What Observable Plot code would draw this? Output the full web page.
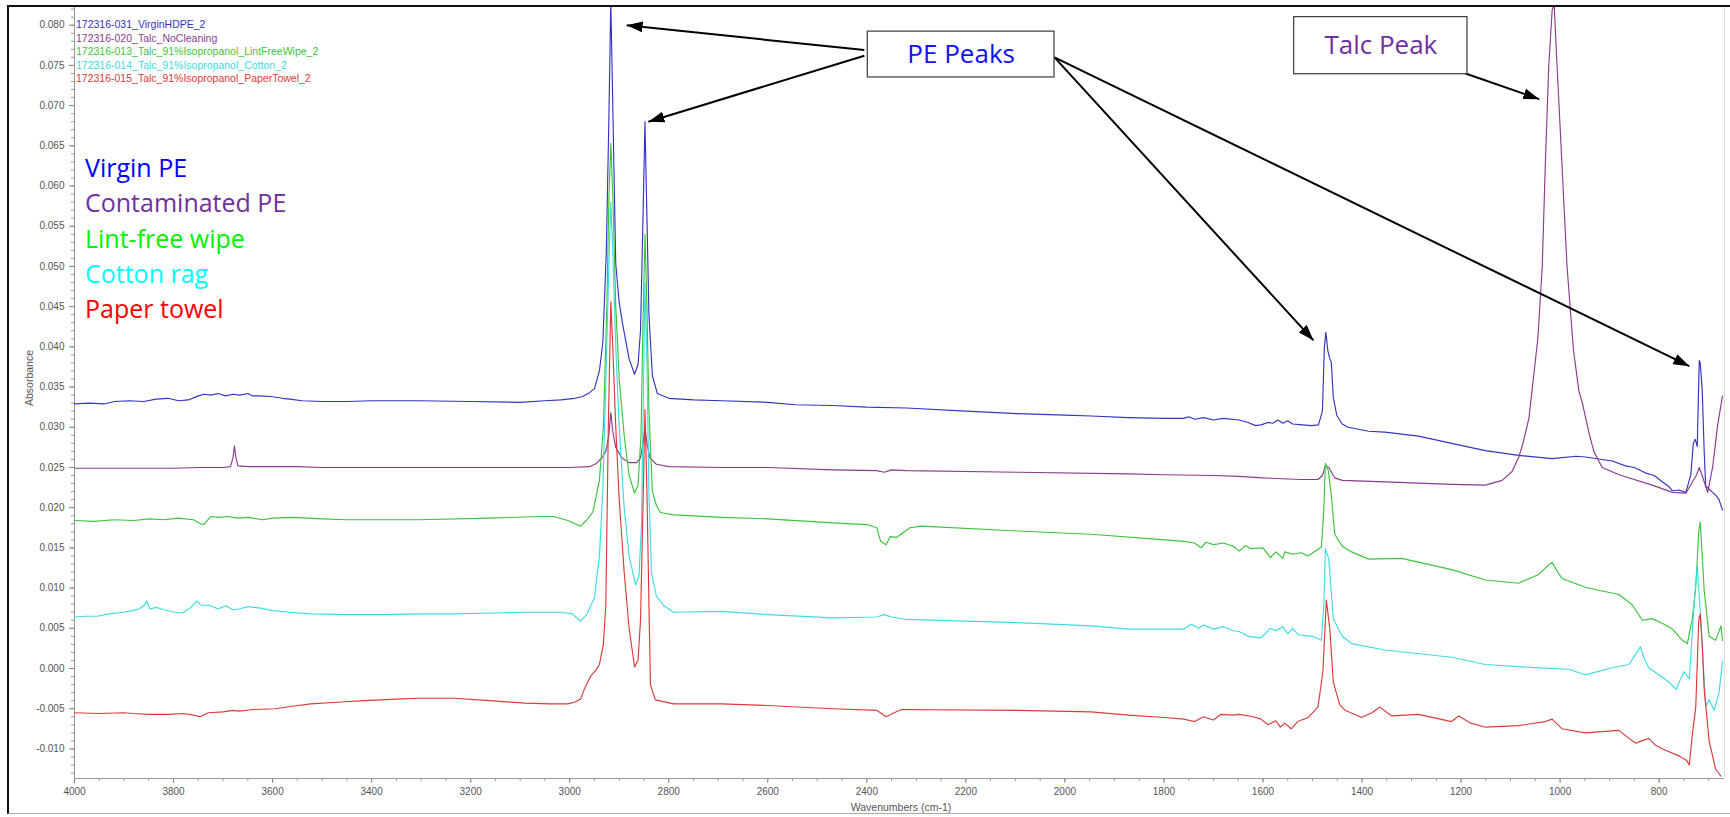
<!DOCTYPE html>
<html>
<head>
<meta charset="utf-8">
<script src="https://cdn.jsdelivr.net/npm/d3@7"></script>
<script src="https://cdn.jsdelivr.net/npm/@observablehq/plot@0.6"></script>
<style>
html,body{margin:0;padding:0;background:#fff;}
#wrap{position:relative;width:1730px;height:817px;overflow:hidden;}
#wrap svg{position:absolute;left:0;top:0;}
#frame{position:absolute;left:7px;top:5px;width:1723px;height:809px;border-left:2px solid #111;border-top:2px solid #111;border-bottom:1px solid #aaa;box-sizing:border-box;pointer-events:none;}
</style>
</head>
<body>
<div id="wrap"><div id="frame"></div></div>
<script>
// ---------- data (wavenumber cm-1, absorbance) ----------
const virginPE = [[4000,0.0329],[3970,0.0330],[3940,0.0329],[3919,0.0332],[3890,0.0333],[3860,0.0332],[3835,0.0335],[3811,0.0336],[3790,0.0333],[3770,0.0334],[3750,0.0339],[3739,0.0341],[3725,0.0340],[3710,0.0342],[3695,0.0339],[3680,0.0341],[3667,0.0340],[3650,0.0342],[3640,0.0339],[3624,0.0339],[3600,0.0338],[3580,0.0336],[3566,0.0335],[3540,0.0333],[3500,0.0332],[3450,0.0332],[3400,0.0333],[3306,0.0333],[3200,0.0332],[3100,0.0331],[3050,0.0333],[3018,0.0334],[2990,0.0336],[2975,0.0338],[2960,0.0343],[2950,0.0348],[2940,0.0370],[2933,0.0406],[2926,0.0520],[2921,0.0680],[2917,0.0830],[2913,0.0700],[2907,0.0503],[2900,0.0455],[2893,0.0428],[2880,0.0385],[2869,0.0366],[2862,0.0378],[2857,0.0420],[2852,0.0560],[2848,0.0680],[2844,0.0560],[2840,0.0440],[2833,0.0364],[2823,0.0342],[2800,0.0336],[2750,0.0334],[2693,0.0333],[2600,0.0331],[2544,0.0328],[2469,0.0327],[2400,0.0325],[2320,0.0324],[2200,0.0320],[2096,0.0317],[2000,0.0315],[1947,0.0314],[1872,0.0312],[1798,0.0311],[1760,0.0311],[1750,0.0313],[1738,0.0310],[1720,0.0312],[1700,0.0309],[1680,0.0311],[1648,0.0309],[1630,0.0306],[1615,0.0302],[1604,0.0303],[1590,0.0306],[1580,0.0305],[1570,0.0309],[1560,0.0305],[1550,0.0308],[1540,0.0304],[1520,0.0303],[1502,0.0302],[1488,0.0303],[1480,0.0320],[1476,0.0400],[1473,0.0418],[1469,0.0395],[1465,0.0385],[1462,0.0381],[1458,0.0337],[1451,0.0315],[1440,0.0304],[1428,0.0300],[1387,0.0295],[1354,0.0294],[1286,0.0289],[1219,0.0280],[1151,0.0271],[1084,0.0265],[1016,0.0261],[968,0.0264],[949,0.0263],[895,0.0258],[868,0.0252],[850,0.0250],[827,0.0243],[810,0.0240],[793,0.0232],[780,0.0226],[773,0.0221],[760,0.0222],[746,0.0219],[736,0.0241],[731,0.0280],[727,0.0285],[723,0.0276],[719,0.0383],[717,0.0380],[713,0.0346],[709,0.0270],[706,0.0227],[692,0.0219],[685,0.0215],[679,0.0210],[672,0.0197]];

const contaminatedPE = [[4000,0.0249],[3900,0.0249],[3800,0.0249],[3750,0.0250],[3700,0.0250],[3685,0.0251],[3680,0.0262],[3677,0.0277],[3674,0.0262],[3670,0.0252],[3650,0.0251],[3600,0.0251],[3550,0.0251],[3500,0.0250],[3400,0.0250],[3200,0.0250],[3000,0.0250],[2960,0.0251],[2946,0.0255],[2935,0.0262],[2927,0.0270],[2921,0.0290],[2917,0.0318],[2913,0.0295],[2907,0.0275],[2895,0.0262],[2880,0.0256],[2865,0.0256],[2857,0.0262],[2852,0.0280],[2848,0.0300],[2844,0.0280],[2838,0.0262],[2825,0.0254],[2800,0.0251],[2693,0.0250],[2600,0.0250],[2469,0.0247],[2380,0.0246],[2365,0.0244],[2350,0.0247],[2320,0.0246],[2096,0.0244],[1872,0.0242],[1798,0.0241],[1700,0.0240],[1648,0.0239],[1600,0.0237],[1523,0.0235],[1489,0.0235],[1480,0.0240],[1474,0.0252],[1467,0.0250],[1455,0.0237],[1440,0.0234],[1354,0.0232],[1219,0.0229],[1151,0.0228],[1117,0.0234],[1097,0.0245],[1084,0.0262],[1075,0.0280],[1063,0.0311],[1045,0.0410],[1036,0.0500],[1030,0.0624],[1023,0.0748],[1016,0.0819],[1012,0.0826],[1006,0.0748],[996,0.0624],[986,0.0500],[973,0.0396],[962,0.0345],[955,0.0330],[942,0.0294],[932,0.0270],[915,0.0250],[881,0.0241],[814,0.0228],[773,0.0219],[746,0.0218],[733,0.0232],[725,0.0240],[719,0.0250],[713,0.0240],[709,0.0232],[702,0.0219],[692,0.0250],[682,0.0302],[672,0.0339]];

const lintFreeWipe = [[4000,0.0184],[3960,0.0183],[3920,0.0185],[3880,0.0184],[3850,0.0186],[3820,0.0185],[3790,0.0187],[3760,0.0185],[3745,0.0180],[3739,0.0179],[3725,0.0189],[3710,0.0188],[3690,0.0189],[3670,0.0187],[3650,0.0188],[3620,0.0185],[3600,0.0187],[3560,0.0188],[3500,0.0186],[3450,0.0185],[3306,0.0185],[3162,0.0187],[3060,0.0189],[3032,0.0189],[3004,0.0184],[2978,0.0177],[2965,0.0185],[2953,0.0195],[2940,0.0234],[2932,0.0300],[2925,0.0450],[2921,0.0580],[2917,0.0653],[2913,0.0590],[2907,0.0450],[2900,0.0360],[2890,0.0290],[2880,0.0240],[2869,0.0218],[2862,0.0228],[2856,0.0290],[2852,0.0430],[2848,0.0540],[2844,0.0450],[2840,0.0320],[2833,0.0220],[2825,0.0203],[2817,0.0194],[2790,0.0191],[2693,0.0188],[2600,0.0186],[2469,0.0181],[2400,0.0179],[2380,0.0175],[2372,0.0158],[2361,0.0154],[2353,0.0164],[2340,0.0163],[2313,0.0175],[2290,0.0177],[2096,0.0171],[1947,0.0167],[1798,0.0160],[1760,0.0158],[1738,0.0156],[1725,0.0150],[1715,0.0157],[1700,0.0154],[1680,0.0156],[1660,0.0152],[1648,0.0146],[1635,0.0153],[1624,0.0149],[1600,0.0150],[1585,0.0138],[1574,0.0145],[1560,0.0137],[1556,0.0145],[1540,0.0142],[1523,0.0144],[1509,0.0140],[1482,0.0151],[1477,0.0200],[1474,0.0255],[1468,0.0246],[1462,0.0215],[1455,0.0167],[1440,0.0152],[1421,0.0145],[1387,0.0136],[1320,0.0137],[1219,0.0123],[1151,0.0110],[1084,0.0106],[1043,0.0117],[1025,0.0128],[1016,0.0132],[1005,0.0120],[996,0.0112],[949,0.0101],[920,0.0097],[881,0.0092],[854,0.0079],[834,0.0060],[814,0.0062],[790,0.0055],[773,0.0049],[753,0.0035],[743,0.0031],[733,0.0062],[726,0.0101],[720,0.0170],[717,0.0182],[713,0.0140],[709,0.0097],[699,0.0040],[686,0.0035],[675,0.0053],[672,0.0035]];

const cottonRag = [[4000,0.0064],[3980,0.0065],[3955,0.0065],[3930,0.0068],[3900,0.0070],[3883,0.0072],[3870,0.0074],[3860,0.0078],[3854,0.0084],[3848,0.0074],[3835,0.0076],[3820,0.0073],[3797,0.0070],[3782,0.0069],[3765,0.0076],[3753,0.0084],[3745,0.0079],[3725,0.0078],[3710,0.0074],[3695,0.0078],[3680,0.0073],[3667,0.0074],[3650,0.0077],[3624,0.0075],[3600,0.0072],[3566,0.0070],[3523,0.0068],[3450,0.0067],[3379,0.0067],[3300,0.0068],[3234,0.0068],[3150,0.0069],[3090,0.0070],[3018,0.0070],[2995,0.0068],[2978,0.0059],[2965,0.0068],[2950,0.0088],[2940,0.0140],[2933,0.0223],[2926,0.0380],[2921,0.0500],[2917,0.0580],[2913,0.0520],[2907,0.0400],[2900,0.0300],[2890,0.0200],[2880,0.0140],[2867,0.0104],[2860,0.0115],[2855,0.0180],[2851,0.0350],[2848,0.0480],[2844,0.0380],[2840,0.0220],[2835,0.0120],[2825,0.0090],[2810,0.0078],[2790,0.0070],[2693,0.0071],[2600,0.0067],[2469,0.0063],[2380,0.0064],[2365,0.0067],[2350,0.0064],[2320,0.0061],[2096,0.0057],[1947,0.0053],[1872,0.0049],[1760,0.0049],[1745,0.0055],[1730,0.0050],[1720,0.0054],[1700,0.0049],[1680,0.0052],[1660,0.0047],[1648,0.0046],[1630,0.0040],[1604,0.0038],[1585,0.0050],[1574,0.0047],[1560,0.0052],[1550,0.0043],[1540,0.0050],[1529,0.0042],[1500,0.0040],[1482,0.0035],[1477,0.0080],[1474,0.0149],[1467,0.0136],[1458,0.0062],[1440,0.0040],[1421,0.0031],[1354,0.0023],[1219,0.0014],[1151,0.0005],[1050,0.0001],[982,-0.0001],[949,-0.0008],[895,0.0001],[861,0.0005],[845,0.0020],[838,0.0027],[830,0.0012],[821,0.0001],[800,-0.0008],[780,-0.0017],[766,-0.0026],[750,-0.0004],[739,-0.0013],[729,0.0084],[723,0.0127],[716,0.0062],[706,-0.0047],[699,-0.0039],[689,-0.0052],[679,-0.0030],[672,0.0009]];

const paperTowel = [[4000,-0.0055],[3950,-0.0056],[3900,-0.0055],[3883,-0.0056],[3850,-0.0057],[3811,-0.0057],[3780,-0.0056],[3760,-0.0058],[3746,-0.0060],[3730,-0.0055],[3700,-0.0054],[3680,-0.0052],[3667,-0.0053],[3640,-0.0051],[3595,-0.0050],[3560,-0.0047],[3523,-0.0044],[3470,-0.0042],[3414,-0.0040],[3350,-0.0038],[3306,-0.0037],[3234,-0.0037],[3162,-0.0040],[3090,-0.0043],[3040,-0.0044],[3004,-0.0044],[2990,-0.0042],[2978,-0.0038],[2970,-0.0025],[2957,-0.0009],[2947,-0.0002],[2940,0.0005],[2932,0.0030],[2927,0.0080],[2922,0.0300],[2917,0.0456],[2913,0.0400],[2907,0.0300],[2900,0.0210],[2890,0.0120],[2880,0.0050],[2869,0.0002],[2862,0.0010],[2857,0.0060],[2852,0.0200],[2848,0.0322],[2844,0.0220],[2840,0.0080],[2837,-0.0020],[2827,-0.0039],[2790,-0.0044],[2693,-0.0044],[2600,-0.0046],[2469,-0.0050],[2380,-0.0052],[2361,-0.0060],[2345,-0.0055],[2330,-0.0051],[2096,-0.0052],[1947,-0.0054],[1872,-0.0058],[1798,-0.0061],[1760,-0.0063],[1738,-0.0066],[1720,-0.0060],[1700,-0.0064],[1685,-0.0057],[1660,-0.0058],[1648,-0.0057],[1620,-0.0060],[1604,-0.0063],[1590,-0.0070],[1574,-0.0065],[1565,-0.0073],[1556,-0.0068],[1543,-0.0075],[1530,-0.0066],[1509,-0.0061],[1489,-0.0048],[1479,-0.0004],[1472,0.0085],[1465,0.0049],[1458,-0.0017],[1445,-0.0045],[1434,-0.0052],[1401,-0.0061],[1380,-0.0055],[1364,-0.0048],[1340,-0.0059],[1286,-0.0057],[1219,-0.0066],[1205,-0.0059],[1180,-0.0068],[1151,-0.0073],[1084,-0.0071],[1030,-0.0066],[1016,-0.0063],[996,-0.0075],[949,-0.0080],[881,-0.0077],[865,-0.0085],[847,-0.0093],[835,-0.0090],[821,-0.0087],[808,-0.0095],[793,-0.0100],[759,-0.0109],[745,-0.0114],[739,-0.0120],[733,-0.0082],[726,-0.0048],[720,0.0060],[717,0.0068],[713,0.0030],[709,-0.0026],[699,-0.0090],[686,-0.0125],[675,-0.0134]];

const seriesData = [virginPE, contaminatedPE, lintFreeWipe, cottonRag, paperTowel];
const lineColors = ["#3434c4", "#8a3c8e", "#3cc43c", "#3cdce4", "#dc3a3a"];
const fileNames = ["172316-031_VirginHDPE_2", "172316-020_Talc_NoCleaning", "172316-013_Talc_91%Isopropanol_LintFreeWipe_2", "172316-014_Talc_91%Isopropanol_Cotton_2", "172316-015_Talc_91%Isopropanol_PaperTowel_2"];
const legendLabels = ["Virgin PE", "Contaminated PE", "Lint-free wipe", "Cotton rag", "Paper towel"];
const legendColors = ["#0000ff", "#7030a0", "#00f000", "#00ffff", "#ff0000"];

const xTicks = [4000, 3800, 3600, 3400, 3200, 3000, 2800, 2600, 2400, 2200, 2000, 1800, 1600, 1400, 1200, 1000, 800];
const xMinorTicks = d3.range(700, 4001, 50);
const yTicks = [-0.010, -0.005, 0.000, 0.005, 0.010, 0.015, 0.020, 0.025, 0.030, 0.035, 0.040, 0.045, 0.050, 0.055, 0.060, 0.065, 0.070, 0.075, 0.080];
const yMinorTicks = d3.range(-13, 83, 1).map(d => d / 1000);

// annotations (in data coordinates)
const boxes = [
  {label: "PE Peaks", color: "#1010ff", x1: 2398, x2: 2021, y1: 0.0792, y2: 0.0735},
  {label: "Talc Peak", color: "#7030a0", x1: 1537, x2: 1187, y1: 0.0810, y2: 0.0739}
];
const arrows = [
  {x1: 2405, y1: 0.0769, x2: 2885, y2: 0.0800},
  {x1: 2405, y1: 0.0762, x2: 2841, y2: 0.0680},
  {x1: 2021, y1: 0.0760, x2: 1498, y2: 0.0408},
  {x1: 2021, y1: 0.0760, x2: 739, y2: 0.0376},
  {x1: 1191, y1: 0.0740, x2: 1042, y2: 0.0708}
];

const xDomain = [4000, 668];
const yDomain = [-0.01368, 0.0822];

const lineMarks = seriesData.map((s, i) => Plot.line(s, {x: d => d[0], y: d => d[1], stroke: lineColors[i], strokeWidth: 1.15, clip: true}));

const chart = Plot.plot({
  width: 1730, height: 817,
  marginLeft: 74, marginRight: 6, marginTop: 7, marginBottom: 39,
  style: {background: "transparent", fontFamily: "'Liberation Sans', Arial, sans-serif", overflow: "visible"},
  x: {domain: xDomain},
  y: {domain: yDomain},
  marks: [
    Plot.ruleX([xDomain[1]], {stroke: "#dddddd"}),
    Plot.axisX(xMinorTicks, {anchor: "bottom", tickSize: 3, tickFormat: () => "", stroke: "#999", label: null}),
    Plot.axisX(xTicks, {anchor: "bottom", tickSize: 5, tickPadding: 4, tickFormat: d => String(d), fontSize: 10, fill: "#555", stroke: "#888", label: null}),
    Plot.axisY(yMinorTicks, {anchor: "left", tickSize: 3, tickFormat: () => "", stroke: "#999", label: null}),
    Plot.axisY(yTicks, {anchor: "left", tickSize: 5, tickPadding: 5, tickFormat: d => d.toFixed(3), fontSize: 10, fill: "#555", stroke: "#888", label: null}),
    Plot.ruleX([xDomain[0]], {stroke: "#999"}),
    Plot.ruleY([yDomain[0]], {stroke: "#999"}),
    ...lineMarks,
    Plot.link(arrows, {x1: "x1", y1: "y1", x2: "x2", y2: "y2", stroke: "#000", strokeWidth: 2}),
    Plot.rect(boxes, {x1: "x1", x2: "x2", y1: "y1", y2: "y2", fill: "white", stroke: "#3a3a3a", strokeWidth: 1.2}),
    Plot.text(boxes, {x: d => (d.x1 + d.x2) / 2, y: d => (d.y1 + d.y2) / 2, text: "label", fill: "color", fontSize: 26, fontFamily: "'Open Sans', sans-serif", lineAnchor: "middle", textAnchor: "middle"})
  ]
});

document.getElementById("wrap").prepend(chart);

// arrowheads
const svg = d3.select(chart);
const defs = svg.insert("defs", ":first-child");
defs.append("marker").attr("id", "ahead").attr("viewBox", "0 0 16 11").attr("refX", 16).attr("refY", 5.5)
  .attr("markerWidth", 16).attr("markerHeight", 11).attr("markerUnits", "userSpaceOnUse").attr("orient", "auto")
  .append("path").attr("d", "M0,0 L16,5.5 L0,11 Z").attr("fill", "#000");
svg.selectAll('g[aria-label="link"] path').attr("marker-end", "url(#ahead)");

const ys = chart.scale("y");
const y080 = ys.apply(0.080);
const y075 = ys.apply(0.075);
const step = (y075 - y080) / 3;
// file legend
const fg = svg.append("g").attr("font-family", "'Liberation Sans', Arial, sans-serif").attr("font-size", 10.5).attr("text-anchor", "start");
fileNames.forEach((t, i) => fg.append("text").attr("x", 76).attr("y", y080 + 3.7 + i * step).attr("text-anchor", "start").attr("fill", lineColors[i]).text(t));
// coloured legend
const lg = svg.append("g").attr("font-family", "'Open Sans', sans-serif").attr("font-size", 25).attr("text-anchor", "start");
legendLabels.forEach((t, i) => lg.append("text").attr("x", 85).attr("y", 176.7 + i * 35.4).attr("text-anchor", "start").attr("fill", legendColors[i]).text(t));
// axis titles
svg.append("text").attr("x", 901).attr("y", 811).attr("text-anchor", "middle").attr("font-size", 10.5).attr("fill", "#555").attr("font-family", "'Liberation Sans', Arial, sans-serif").text("Wavenumbers (cm-1)");
svg.append("text").attr("transform", "translate(33,378) rotate(-90)").attr("text-anchor", "middle").attr("font-size", 10.5).attr("fill", "#555").attr("font-family", "'Liberation Sans', Arial, sans-serif").text("Absorbance");
</script>
</body>
</html>
